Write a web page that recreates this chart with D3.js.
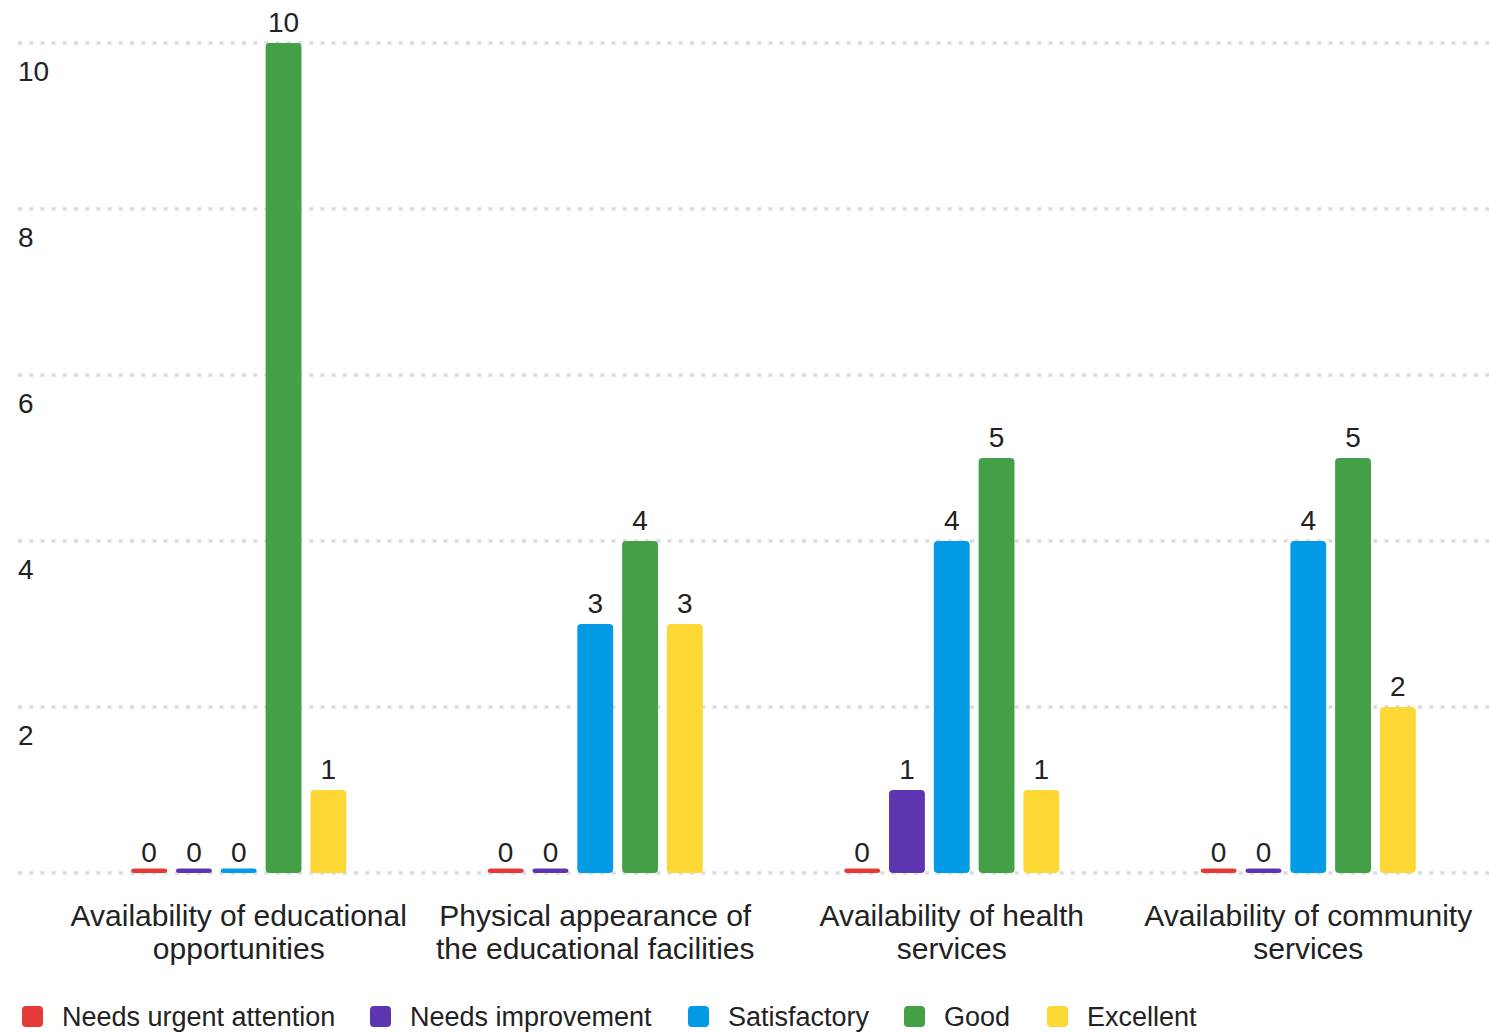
<!DOCTYPE html>
<html>
<head>
<meta charset="utf-8">
<script src="https://cdn.jsdelivr.net/npm/d3@7"></script>
<style>
  html, body { margin: 0; padding: 0; background: #fff; }
  svg { display: block; font-family: "Liberation Sans", Arial, sans-serif; }
</style>
</head>
<body>
<svg id="chart" width="1489" height="1034"></svg>
<script>
// Survey ratings per community aspect
const categories = [
  ["Availability of educational", "opportunities"],
  ["Physical appearance of", "the educational facilities"],
  ["Availability of health", "services"],
  ["Availability of community", "services"]
];
const seriesNames = ["Needs urgent attention", "Needs improvement", "Satisfactory", "Good", "Excellent"];
const seriesColors = ["#e53935", "#5e35b1", "#039be5", "#43a047", "#fdd835"];

const needsUrgent = [0, 0, 0, 0];
const needsImprovement = [0, 0, 1, 0];
const satisfactory = [0, 3, 4, 4];
const good = [10, 4, 5, 5];
const excellent = [1, 3, 1, 2];

const yTicks = [0, 2, 4, 6, 8, 10];

const seriesValues = [needsUrgent, needsImprovement, satisfactory, good, excellent];

const svg = d3.select("#chart");
const textColor = "#222";

const y = d3.scaleLinear().domain([0, 10]).range([873, 43]);

const x0 = d3.scaleBand()
  .domain(d3.range(categories.length))
  .range([60.5, 1486.5])
  .padding(0);

const innerSpan = 224;
const x1 = d3.scaleBand()
  .domain(d3.range(seriesNames.length))
  .range([(x0.bandwidth() - innerSpan) / 2, (x0.bandwidth() + innerSpan) / 2])
  .paddingInner(0.2)
  .paddingOuter(0.1);

// Dotted horizontal gridlines
const grid = svg.append("g");
grid.selectAll("line")
  .data(yTicks)
  .join("line")
  .attr("x1", 18)
  .attr("x2", 1489)
  .attr("y1", d => y(d))
  .attr("y2", d => y(d))
  .attr("stroke", "#dcdcdc")
  .attr("stroke-width", 3.5)
  .attr("stroke-dasharray", "4,7.2");

// Tick labels sit just below their gridline
const yAxis = d3.axisLeft(y).tickValues(yTicks.filter(d => d > 0)).tickSize(0).tickPadding(0);
const yg = svg.append("g").attr("transform", "translate(18,0)").call(yAxis);
yg.select(".domain").remove();
yg.selectAll("text")
  .attr("text-anchor", "start")
  .attr("x", 0)
  .attr("dy", 0)
  .attr("y", 37)
  .attr("fill", textColor)
  .style("font-size", "28px")
  .style("font-family", "'Liberation Sans', Arial, sans-serif");

// Bars
const groups = svg.append("g")
  .selectAll("g")
  .data(categories.map((c, i) => i))
  .join("g")
  .attr("transform", i => `translate(${x0(i)},0)`);

const minStub = 4.5;
groups.selectAll("rect")
  .data(i => seriesValues.map((vals, s) => ({ s, v: vals[i] })))
  .join("rect")
  .attr("x", d => x1(d.s))
  .attr("width", x1.bandwidth())
  .attr("y", d => Math.min(y(d.v), y(0) - minStub))
  .attr("height", d => Math.max(y(0) - y(d.v), minStub))
  .attr("rx", d => d.v === 0 ? 3 : 4)
  .attr("fill", d => seriesColors[d.s]);

// Value labels
groups.selectAll("text.val")
  .data(i => seriesValues.map((vals, s) => ({ s, v: vals[i] })))
  .join("text")
  .attr("class", "val")
  .attr("x", d => x1(d.s) + x1.bandwidth() / 2)
  .attr("y", d => y(d.v) - 11)
  .attr("text-anchor", "middle")
  .attr("fill", textColor)
  .style("font-size", "28px")
  .text(d => d.v);

// Category labels (two lines)
const catG = svg.append("g");
categories.forEach((lines, i) => {
  const t = catG.append("text")
    .attr("x", x0(i) + x0.bandwidth() / 2)
    .attr("y", 926)
    .attr("text-anchor", "middle")
    .attr("fill", textColor)
    .style("font-size", "30px");
  lines.forEach((ln, k) => {
    t.append("tspan")
      .attr("x", x0(i) + x0.bandwidth() / 2)
      .attr("dy", k === 0 ? 0 : 33)
      .text(ln);
  });
});

// Legend
const legendX = [22, 370, 688, 904, 1047];
const legend = svg.append("g")
  .selectAll("g")
  .data(seriesNames.map((n, s) => s))
  .join("g")
  .attr("transform", s => `translate(${legendX[s]},1006)`);
legend.append("rect")
  .attr("width", 21)
  .attr("height", 21)
  .attr("rx", 4)
  .attr("fill", s => seriesColors[s]);
legend.append("text")
  .attr("x", 40)
  .attr("y", 20)
  .attr("fill", textColor)
  .style("font-size", "27px")
  .text(s => seriesNames[s]);
</script>
</body>
</html>
